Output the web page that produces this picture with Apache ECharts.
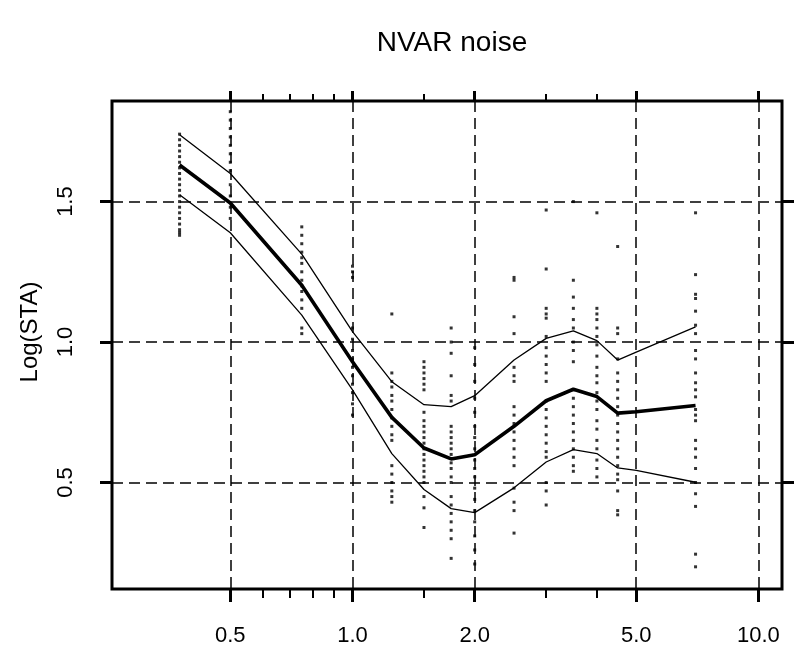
<!DOCTYPE html>
<html><head><meta charset="utf-8">
<script src="https://cdn.jsdelivr.net/npm/echarts@6/dist/echarts.min.js"></script>
<style>html,body{margin:0;padding:0;background:#fff}#c{width:794px;height:655px}</style>
</head><body><div id="c"></div>
<script>
const chartTitle = 'NVAR noise';
const yName = 'Log(STA)';
const xMajorTicks = [0.5, 1.0, 2.0, 5.0, 10.0];
const xMinorTicks = [0.6, 0.7, 0.8, 0.9, 1.5, 3.0, 4.0];
const yTicks = [0.5, 1.0, 1.5];
const xRange = [0.2556, 11.43];
const yRange = [0.121, 1.858];

const lineX  = [0.375, 0.5, 0.75, 1.0, 1.25, 1.5, 1.75, 2.0, 2.5, 3.0, 3.5, 4.0, 4.5, 5.0, 7.0];
const meanY  = [1.630, 1.495, 1.202, 0.930, 0.732, 0.623, 0.584, 0.599, 0.700, 0.791, 0.832, 0.806, 0.747, 0.752, 0.774];
const upperY = [1.738, 1.600, 1.313, 1.037, 0.859, 0.777, 0.770, 0.809, 0.936, 1.013, 1.040, 1.005, 0.936, 0.964, 1.054];
const lowerY = [1.524, 1.389, 1.096, 0.830, 0.603, 0.475, 0.407, 0.393, 0.481, 0.573, 0.617, 0.603, 0.552, 0.543, 0.501];

const dotX = [0.375, 0.5, 0.75, 1.0, 1.25, 1.5, 1.75, 2.0, 2.5, 3.0, 3.5, 4.0, 4.5, 7.0];
const dotY = [
  [1.74, 1.72, 1.70, 1.68, 1.66, 1.64, 1.62, 1.60, 1.58, 1.56, 1.54, 1.52, 1.50, 1.48, 1.46, 1.44, 1.42, 1.40, 1.39, 1.38],
  [1.82, 1.79, 1.76, 1.73, 1.70, 1.67, 1.64, 1.61, 1.56, 1.52, 1.48, 1.44],
  [1.41, 1.38, 1.35, 1.32, 1.30, 1.28, 1.25, 1.22, 1.20, 1.18, 1.15, 1.12, 1.05, 1.03],
  [1.27, 1.25, 1.23, 1.05, 1.01, 0.97, 0.94, 0.91, 0.88, 0.85, 0.82, 0.78, 0.74],
  [1.10, 0.89, 0.86, 0.84, 0.81, 0.79, 0.76, 0.73, 0.70, 0.67, 0.65, 0.56, 0.53, 0.50, 0.47, 0.45, 0.43],
  [0.93, 0.91, 0.89, 0.87, 0.85, 0.83, 0.75, 0.72, 0.70, 0.68, 0.66, 0.64, 0.62, 0.60, 0.58, 0.56, 0.54, 0.52, 0.50, 0.45, 0.41, 0.34],
  [1.05, 1.00, 0.96, 0.88, 0.81, 0.79, 0.70, 0.68, 0.66, 0.64, 0.62, 0.60, 0.57, 0.55, 0.52, 0.50, 0.45, 0.42, 0.39, 0.36, 0.33, 0.30, 0.23],
  [0.98, 0.92, 0.86, 0.80, 0.75, 0.70, 0.66, 0.62, 0.58, 0.55, 0.52, 0.48, 0.44, 0.40, 0.36, 0.31, 0.26, 0.21],
  [1.23, 1.22, 1.09, 1.03, 0.91, 0.88, 0.86, 0.77, 0.74, 0.71, 0.68, 0.65, 0.62, 0.59, 0.56, 0.48, 0.43, 0.40, 0.32],
  [1.47, 1.26, 1.12, 1.10, 1.085, 1.02, 0.98, 0.95, 0.92, 0.89, 0.86, 0.79, 0.76, 0.73, 0.70, 0.67, 0.64, 0.61, 0.59, 0.50, 0.47, 0.42],
  [1.50, 1.22, 1.16, 1.12, 1.08, 1.05, 1.00, 0.97, 0.93, 0.83, 0.80, 0.77, 0.74, 0.71, 0.68, 0.65, 0.62, 0.59, 0.56, 0.54],
  [1.46, 1.12, 1.10, 1.08, 1.05, 1.02, 0.99, 0.95, 0.91, 0.88, 0.855, 0.82, 0.79, 0.76, 0.72, 0.69, 0.65, 0.62, 0.58, 0.55, 0.52],
  [1.34, 1.05, 1.03, 0.94, 0.89, 0.86, 0.83, 0.80, 0.77, 0.74, 0.71, 0.68, 0.65, 0.62, 0.59, 0.56, 0.53, 0.51, 0.47, 0.40, 0.385],
  [1.46, 1.24, 1.17, 1.155, 1.11, 1.06, 1.03, 0.97, 0.94, 0.89, 0.855, 0.83, 0.805, 0.76, 0.74, 0.72, 0.65, 0.62, 0.59, 0.55, 0.50, 0.46, 0.415, 0.245, 0.20]
];

const lg = v => Math.log10(v);
const FONT = 'Liberation Sans';
const BLACK = '#000';

function xAx(position, ticks, len, w, withLabels, withSplit) {
  return {
    type: 'value', position: position,
    min: lg(xRange[0]), max: lg(xRange[1]),
    axisLine: { show: false, onZero: false },
    axisTick: { show: true, inside: false, customValues: ticks.map(lg), length: len, lineStyle: { color: BLACK, width: w } },
    axisLabel: withLabels ? {
      show: true, customValues: ticks.map(lg),
      formatter: v => Math.pow(10, v).toFixed(1),
      fontSize: 22, color: BLACK, fontFamily: FONT, margin: 36
    } : { show: false },
    splitLine: withSplit ? { show: true, lineStyle: { type: [11, 6], color: BLACK, width: 1.5 } } : { show: false }
  };
}

const scatterData = [];
dotX.forEach((x, i) => dotY[i].forEach(y => scatterData.push([lg(x), y])));

function lineSeries(ys, w) {
  return {
    type: 'line', xAxisIndex: 0, yAxisIndex: 0, silent: true,
    data: lineX.map((x, i) => [lg(x), ys[i]]),
    showSymbol: false, symbol: 'none',
    lineStyle: { color: BLACK, width: w }, z: 4
  };
}

const chart = echarts.init(document.getElementById('c'), null, { renderer: 'canvas' });
chart.setOption({
  animation: false,
  backgroundColor: '#fff',
  title: {
    text: chartTitle, left: 447, top: 24, textAlign: 'center',
    textStyle: { fontSize: 28, fontWeight: 'normal', color: BLACK, fontFamily: FONT }
  },
  grid: { left: 112, right: 12, top: 101, bottom: 66, show: true, borderColor: BLACK, borderWidth: 3, backgroundColor: 'transparent' },
  xAxis: [
    xAx('bottom', xMajorTicks, 13, 3, true, true),
    xAx('bottom', xMinorTicks, 9, 2, false, false),
    xAx('top', xMajorTicks, 10, 3, false, false),
    xAx('top', xMinorTicks, 7, 2, false, false)
  ],
  yAxis: [
    {
      type: 'value', position: 'left', min: yRange[0], max: yRange[1],
      axisLine: { show: false, onZero: false },
      axisTick: { show: true, customValues: yTicks, length: 12, lineStyle: { color: BLACK, width: 3 } },
      axisLabel: { customValues: yTicks, formatter: v => v.toFixed(1), rotate: 90, fontSize: 22, color: BLACK, fontFamily: FONT, margin: 35 },
      splitLine: { show: true, lineStyle: { type: [11, 6], color: BLACK, width: 1.5 } },
      name: yName, nameLocation: 'middle', nameRotate: 90, nameGap: 70,
      nameTextStyle: { fontSize: 24, color: BLACK, fontFamily: FONT, padding: [0, 0, 0, 26] }
    },
    {
      type: 'value', position: 'right', min: yRange[0], max: yRange[1],
      axisLine: { show: false, onZero: false },
      axisTick: { show: true, customValues: yTicks, length: 12, lineStyle: { color: BLACK, width: 3 } },
      axisLabel: { show: false },
      splitLine: { show: false }
    }
  ],
  series: [
    {
      type: 'scatter', xAxisIndex: 0, yAxisIndex: 0, silent: true,
      data: scatterData, symbol: 'rect', symbolSize: 3,
      itemStyle: { color: BLACK }, z: 5
    },
    lineSeries(upperY, 1.3),
    lineSeries(meanY, 3.6),
    lineSeries(lowerY, 1.3)
  ]
});
</script>
</body></html>
